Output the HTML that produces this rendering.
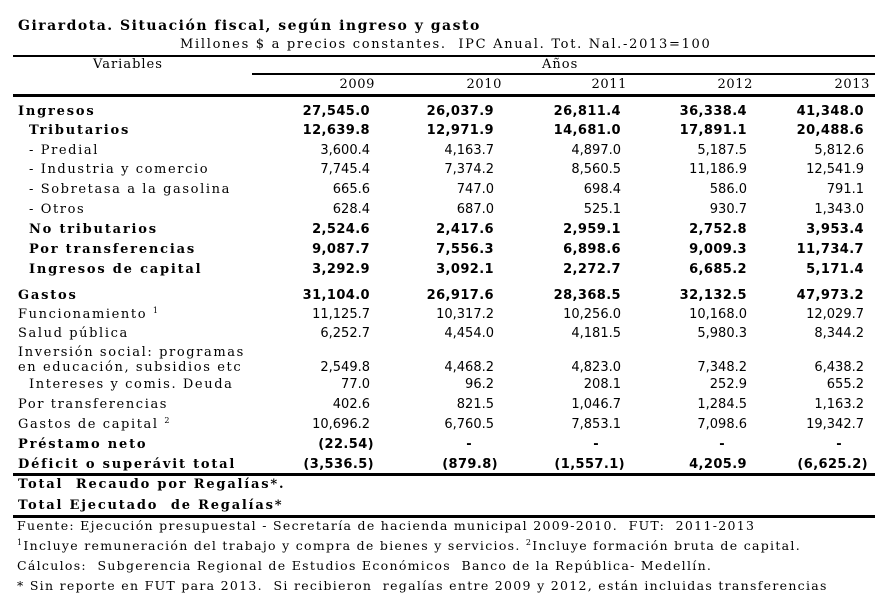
<!DOCTYPE html>
<html><head><meta charset="utf-8"><style>
body{margin:0;width:887px;height:603px;background:#fff;position:relative;overflow:hidden;color:#000}
.s{position:absolute;font-family:"DejaVu Serif",serif;font-size:13px;white-space:nowrap;line-height:14px;letter-spacing:1.6px}
.b{font-weight:bold;letter-spacing:1.8px}
.n{position:absolute;font-family:"DejaVu Sans",sans-serif;font-size:13px;white-space:nowrap;line-height:14px;text-align:right;width:120px}
.nb{font-weight:bold;letter-spacing:0.4px}
.l{position:absolute;background:#000}
sup{font-size:8px;line-height:0;vertical-align:5px}
</style></head><body>
<div class="s b" style="left:18px;top:19px;font-size:14px;letter-spacing:1.5px">Girardota. Situación fiscal, según ingreso y gasto</div>
<div class="s" style="left:180px;top:38px;letter-spacing:1.7px;white-space:pre">Millones $ a precios constantes.  IPC Anual. Tot. Nal.-2013=100</div>
<div class="l" style="left:13px;top:55px;width:862px;height:2px"></div>
<div class="s" style="left:93px;top:58px;letter-spacing:1px">Variables</div>
<div class="s" style="left:542px;top:58px;letter-spacing:1px">Años</div>
<div class="l" style="left:252px;top:73px;width:623px;height:2px"></div>
<div class="l" style="left:13px;top:94px;width:862px;height:3px"></div>
<div class="l" style="left:13px;top:473px;width:862px;height:3px"></div>
<div class="l" style="left:13px;top:515px;width:862px;height:3px"></div>
<div id="c"></div>
<script>
var yr=[["2009",375],["2010",502],["2011",627],["2012",753],["2013",870]];
var h='';
yr.forEach(function(y){h+='<div class="n" style="font-family:DejaVu Serif,serif;letter-spacing:0.6px;left:'+(y[1]-120)+'px;top:78px">'+y[0]+'</div>';});
var R=[370,494,621,747,864];
var rows=[
["Ingresos",18,105,1,["27,545.0","26,037.9","26,811.4","36,338.4","41,348.0"]],
["Tributarios",29,124,1,["12,639.8","12,971.9","14,681.0","17,891.1","20,488.6"]],
["- Predial",29,144,0,["3,600.4","4,163.7","4,897.0","5,187.5","5,812.6"]],
["- Industria y comercio",29,163,0,["7,745.4","7,374.2","8,560.5","11,186.9","12,541.9"]],
["- Sobretasa a la gasolina",29,183,0,["665.6","747.0","698.4","586.0","791.1"]],
["- Otros",29,203,0,["628.4","687.0","525.1","930.7","1,343.0"]],
["No tributarios",29,223,1,["2,524.6","2,417.6","2,959.1","2,752.8","3,953.4"]],
["Por transferencias",29,243,1,["9,087.7","7,556.3","6,898.6","9,009.3","11,734.7"]],
["Ingresos de capital",29,263,1,["3,292.9","3,092.1","2,272.7","6,685.2","5,171.4"]],
["Gastos",18,289,1,["31,104.0","26,917.6","28,368.5","32,132.5","47,973.2"]],
["Funcionamiento <sup>1</sup>",18,308,0,["11,125.7","10,317.2","10,256.0","10,168.0","12,029.7"]],
["Salud pública",18,327,0,["6,252.7","4,454.0","4,181.5","5,980.3","8,344.2"]],
["Inversión social: programas",18,346,0,null],
["en educación, subsidios etc",18,361,0,["2,549.8","4,468.2","4,823.0","7,348.2","6,438.2"]],
["Intereses y comis. Deuda",29,378,0,["77.0","96.2","208.1","252.9","655.2"]],
["Por transferencias",18,398,0,["402.6","821.5","1,046.7","1,284.5","1,163.2"]],
["Gastos de capital <sup>2</sup>",18,418,0,["10,696.2","6,760.5","7,853.1","7,098.6","19,342.7"]],
["Préstamo neto",18,438,1,["(22.54)","-","-","-","-"]],
["Déficit o superávit total",18,458,1,["(3,536.5)","(879.8)","(1,557.1)","4,205.9","(6,625.2)"]],
["Total  Recaudo por Regalías*.",18,478,1,null],
["Total Ejecutado  de Regalías*",18,499,1,null]];
rows.forEach(function(r){
 h+='<div class="s'+(r[3]?' b':'')+'" style="left:'+r[1]+'px;top:'+r[2]+'px;white-space:pre">'+r[0]+'</div>';
 if(r[4]) r[4].forEach(function(v,i){
  var rr=R[i]; if(v=="-") rr=R[i]-22; if(v.charAt(0)=="(")rr=R[i]+4;
  h+='<div class="n'+(r[3]?' nb':'')+'" style="left:'+(rr-120)+'px;top:'+r[2]+'px">'+v+'</div>';});
});
var f=[["Fuente: Ejecución presupuestal - Secretaría de hacienda municipal 2009-2010.  FUT:  2011-2013",519],
["<sup>1</sup>Incluye remuneración del trabajo y compra de bienes y servicios. <sup>2</sup>Incluye formación bruta de capital.",539],
["Cálculos:  Subgerencia Regional de Estudios Económicos  Banco de la República- Medellín.",559],
["* Sin reporte en FUT para 2013.  Si recibieron  regalías entre 2009 y 2012, están incluidas transferencias",579]];
f.forEach(function(x){h+='<div class="s" style="left:17px;top:'+x[1]+'px;font-size:12.5px;letter-spacing:1.3px;white-space:pre">'+x[0]+'</div>';});
document.getElementById('c').innerHTML=h;
</script>
</body></html>
